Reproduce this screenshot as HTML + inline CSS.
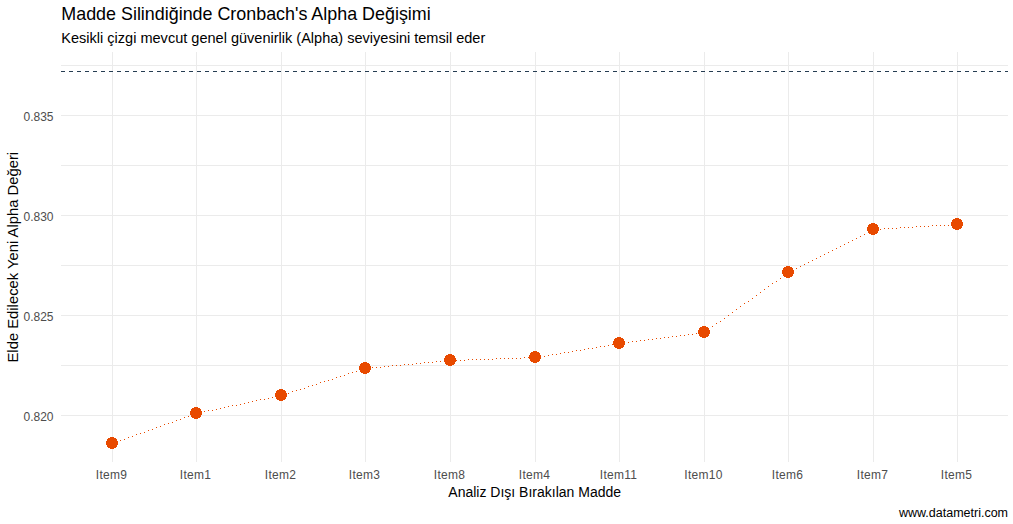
<!DOCTYPE html>
<html><head><meta charset="utf-8"><style>
html,body{margin:0;padding:0;background:#fff;overflow:hidden;}
svg{display:block;}
text{font-family:"Liberation Sans",sans-serif;}
.ax{font-size:12px;fill:#4D4D4D;}
.atx{font-size:14px;fill:#000;}
.aty{font-size:14.8px;fill:#000;}
.ti{font-size:17.9px;fill:#000;}
.st{font-size:14.54px;fill:#000;}
.cap{font-size:12.5px;fill:#000;}
</style></head><body>
<svg width="1013" height="524" viewBox="0 0 1013 524" shape-rendering="crispEdges">
<rect width="1013" height="524" fill="#fff"/>
<rect x="61" y="65" width="947" height="1" fill="#EBEBEB"/>
<rect x="61" y="115" width="947" height="1" fill="#EBEBEB"/>
<rect x="61" y="165" width="947" height="1" fill="#EBEBEB"/>
<rect x="61" y="215" width="947" height="1" fill="#EBEBEB"/>
<rect x="61" y="265" width="947" height="1" fill="#EBEBEB"/>
<rect x="61" y="315" width="947" height="1" fill="#EBEBEB"/>
<rect x="61" y="365" width="947" height="1" fill="#EBEBEB"/>
<rect x="61" y="415" width="947" height="1" fill="#EBEBEB"/>
<rect x="112" y="52" width="1" height="410" fill="#EBEBEB"/>
<rect x="196" y="52" width="1" height="410" fill="#EBEBEB"/>
<rect x="281" y="52" width="1" height="410" fill="#EBEBEB"/>
<rect x="365" y="52" width="1" height="410" fill="#EBEBEB"/>
<rect x="450" y="52" width="1" height="410" fill="#EBEBEB"/>
<rect x="535" y="52" width="1" height="410" fill="#EBEBEB"/>
<rect x="619" y="52" width="1" height="410" fill="#EBEBEB"/>
<rect x="704" y="52" width="1" height="410" fill="#EBEBEB"/>
<rect x="788" y="52" width="1" height="410" fill="#EBEBEB"/>
<rect x="873" y="52" width="1" height="410" fill="#EBEBEB"/>
<rect x="957" y="52" width="1" height="410" fill="#EBEBEB"/>
<path d="M61,71h4v1h-4zM69,71h4v1h-4zM77,71h4v1h-4zM85,71h4v1h-4zM93,71h4v1h-4zM101,71h4v1h-4zM109,71h4v1h-4zM117,71h4v1h-4zM125,71h4v1h-4zM133,71h4v1h-4zM141,71h4v1h-4zM149,71h4v1h-4zM157,71h4v1h-4zM165,71h4v1h-4zM173,71h4v1h-4zM181,71h4v1h-4zM189,71h4v1h-4zM197,71h4v1h-4zM205,71h4v1h-4zM213,71h4v1h-4zM221,71h4v1h-4zM229,71h4v1h-4zM237,71h4v1h-4zM245,71h4v1h-4zM253,71h4v1h-4zM261,71h4v1h-4zM269,71h4v1h-4zM277,71h4v1h-4zM285,71h4v1h-4zM293,71h4v1h-4zM301,71h4v1h-4zM309,71h4v1h-4zM317,71h4v1h-4zM325,71h4v1h-4zM333,71h4v1h-4zM341,71h4v1h-4zM349,71h4v1h-4zM357,71h4v1h-4zM365,71h4v1h-4zM373,71h4v1h-4zM381,71h4v1h-4zM389,71h4v1h-4zM397,71h4v1h-4zM405,71h4v1h-4zM413,71h4v1h-4zM421,71h4v1h-4zM429,71h4v1h-4zM437,71h4v1h-4zM445,71h4v1h-4zM453,71h4v1h-4zM461,71h4v1h-4zM469,71h4v1h-4zM477,71h4v1h-4zM485,71h4v1h-4zM493,71h4v1h-4zM501,71h4v1h-4zM509,71h4v1h-4zM517,71h4v1h-4zM525,71h4v1h-4zM533,71h4v1h-4zM541,71h4v1h-4zM549,71h4v1h-4zM557,71h4v1h-4zM565,71h4v1h-4zM573,71h4v1h-4zM581,71h4v1h-4zM589,71h4v1h-4zM597,71h4v1h-4zM605,71h4v1h-4zM613,71h4v1h-4zM621,71h4v1h-4zM629,71h4v1h-4zM637,71h4v1h-4zM645,71h4v1h-4zM653,71h4v1h-4zM661,71h4v1h-4zM669,71h4v1h-4zM677,71h4v1h-4zM685,71h4v1h-4zM693,71h4v1h-4zM701,71h4v1h-4zM709,71h4v1h-4zM717,71h4v1h-4zM725,71h4v1h-4zM733,71h4v1h-4zM741,71h4v1h-4zM749,71h4v1h-4zM757,71h4v1h-4zM765,71h4v1h-4zM773,71h4v1h-4zM781,71h4v1h-4zM789,71h4v1h-4zM797,71h4v1h-4zM805,71h4v1h-4zM813,71h4v1h-4zM821,71h4v1h-4zM829,71h4v1h-4zM837,71h4v1h-4zM845,71h4v1h-4zM853,71h4v1h-4zM861,71h4v1h-4zM869,71h4v1h-4zM877,71h4v1h-4zM885,71h4v1h-4zM893,71h4v1h-4zM901,71h4v1h-4zM909,71h4v1h-4zM917,71h4v1h-4zM925,71h4v1h-4zM933,71h4v1h-4zM941,71h4v1h-4zM949,71h4v1h-4zM957,71h4v1h-4zM965,71h4v1h-4zM973,71h4v1h-4zM981,71h4v1h-4zM989,71h4v1h-4zM997,71h4v1h-4zM1005,71h3v1h-3z" fill="#263D52"/>
<path d="M112,443h1v1h-1zM116,442h1v1h-1zM120,440h1v1h-1zM124,439h1v1h-1zM128,437h1v1h-1zM132,436h1v1h-1zM136,434h1v1h-1zM140,433h1v1h-1zM144,432h1v1h-1zM148,430h1v1h-1zM152,429h1v1h-1zM156,427h1v1h-1zM160,426h1v1h-1zM164,424h1v1h-1zM168,423h1v1h-1zM172,422h1v1h-1zM176,420h1v1h-1zM180,419h1v1h-1zM184,417h1v1h-1zM188,416h1v1h-1zM192,414h1v1h-1zM196,413h1v1h-1zM200,412h1v1h-1zM204,411h1v1h-1zM208,410h1v1h-1zM212,410h1v1h-1zM216,409h1v1h-1zM220,408h1v1h-1zM224,407h1v1h-1zM228,406h1v1h-1zM232,405h1v1h-1zM236,405h1v1h-1zM240,404h1v1h-1zM244,403h1v1h-1zM248,402h1v1h-1zM252,401h1v1h-1zM256,400h1v1h-1zM260,399h1v1h-1zM264,399h1v1h-1zM268,398h1v1h-1zM272,397h1v1h-1zM276,396h1v1h-1zM280,395h1v1h-1zM284,394h1v1h-1zM288,393h1v1h-1zM292,391h1v1h-1zM296,390h1v1h-1zM300,389h1v1h-1zM304,388h1v1h-1zM308,386h1v1h-1zM312,385h1v1h-1zM316,384h1v1h-1zM320,382h1v1h-1zM324,381h1v1h-1zM328,380h1v1h-1zM332,379h1v1h-1zM336,377h1v1h-1zM340,376h1v1h-1zM344,375h1v1h-1zM348,373h1v1h-1zM352,372h1v1h-1zM356,371h1v1h-1zM360,370h1v1h-1zM364,368h1v1h-1zM368,368h1v1h-1zM372,367h1v1h-1zM376,367h1v1h-1zM380,367h1v1h-1zM384,366h1v1h-1zM388,366h1v1h-1zM392,365h1v1h-1zM396,365h1v1h-1zM400,365h1v1h-1zM404,364h1v1h-1zM408,364h1v1h-1zM412,364h1v1h-1zM416,363h1v1h-1zM420,363h1v1h-1zM424,362h1v1h-1zM428,362h1v1h-1zM432,362h1v1h-1zM436,361h1v1h-1zM440,361h1v1h-1zM444,361h1v1h-1zM448,360h1v1h-1zM452,360h1v1h-1zM456,360h1v1h-1zM460,360h1v1h-1zM464,360h1v1h-1zM468,359h1v1h-1zM472,359h1v1h-1zM476,359h1v1h-1zM480,359h1v1h-1zM484,359h1v1h-1zM488,359h1v1h-1zM492,359h1v1h-1zM496,358h1v1h-1zM500,358h1v1h-1zM504,358h1v1h-1zM508,358h1v1h-1zM512,358h1v1h-1zM516,358h1v1h-1zM520,358h1v1h-1zM524,357h1v1h-1zM528,357h1v1h-1zM532,357h1v1h-1zM536,357h1v1h-1zM540,356h1v1h-1zM544,356h1v1h-1zM548,355h1v1h-1zM552,354h1v1h-1zM556,354h1v1h-1zM560,353h1v1h-1zM564,352h1v1h-1zM568,352h1v1h-1zM572,351h1v1h-1zM576,350h1v1h-1zM580,350h1v1h-1zM584,349h1v1h-1zM588,348h1v1h-1zM592,348h1v1h-1zM596,347h1v1h-1zM600,346h1v1h-1zM604,346h1v1h-1zM608,345h1v1h-1zM612,344h1v1h-1zM616,344h1v1h-1zM620,343h1v1h-1zM624,342h1v1h-1zM628,342h1v1h-1zM632,341h1v1h-1zM636,341h1v1h-1zM640,340h1v1h-1zM644,340h1v1h-1zM648,339h1v1h-1zM652,339h1v1h-1zM656,338h1v1h-1zM660,338h1v1h-1zM664,337h1v1h-1zM668,337h1v1h-1zM672,336h1v1h-1zM676,336h1v1h-1zM680,335h1v1h-1zM684,335h1v1h-1zM688,334h1v1h-1zM692,334h1v1h-1zM696,333h1v1h-1zM700,333h1v1h-1zM704,332h1v1h-1zM708,329h1v1h-1zM712,326h1v1h-1zM716,323h1v1h-1zM720,321h1v1h-1zM724,318h1v1h-1zM728,315h1v1h-1zM732,312h1v1h-1zM736,309h1v1h-1zM740,306h1v1h-1zM744,303h1v1h-1zM748,301h1v1h-1zM752,298h1v1h-1zM756,295h1v1h-1zM760,292h1v1h-1zM764,289h1v1h-1zM768,286h1v1h-1zM772,283h1v1h-1zM776,281h1v1h-1zM780,278h1v1h-1zM784,275h1v1h-1zM788,272h1v1h-1zM792,270h1v1h-1zM796,268h1v1h-1zM800,266h1v1h-1zM804,264h1v1h-1zM808,262h1v1h-1zM812,260h1v1h-1zM816,258h1v1h-1zM820,256h1v1h-1zM824,254h1v1h-1zM828,252h1v1h-1zM832,250h1v1h-1zM836,248h1v1h-1zM840,246h1v1h-1zM844,244h1v1h-1zM848,242h1v1h-1zM852,240h1v1h-1zM856,238h1v1h-1zM860,236h1v1h-1zM864,234h1v1h-1zM868,232h1v1h-1zM872,230h1v1h-1zM876,229h1v1h-1zM880,229h1v1h-1zM884,228h1v1h-1zM888,228h1v1h-1zM892,228h1v1h-1zM896,228h1v1h-1zM900,227h1v1h-1zM904,227h1v1h-1zM908,227h1v1h-1zM912,227h1v1h-1zM916,226h1v1h-1zM920,226h1v1h-1zM924,226h1v1h-1zM928,226h1v1h-1zM932,225h1v1h-1zM936,225h1v1h-1zM940,225h1v1h-1zM944,225h1v1h-1zM948,225h1v1h-1zM952,224h1v1h-1zM956,224h1v1h-1z" fill="#E84A00"/>
<path d="M110,437h4v1h2v1h1v2h1v4h-1v2h-1v1h-2v1h-4v-1h-2v-1h-1v-2h-1v-4h1v-2h1v-1h2zM194,407h4v1h2v1h1v2h1v4h-1v2h-1v1h-2v1h-4v-1h-2v-1h-1v-2h-1v-4h1v-2h1v-1h2zM279,389h4v1h2v1h1v2h1v4h-1v2h-1v1h-2v1h-4v-1h-2v-1h-1v-2h-1v-4h1v-2h1v-1h2zM363,362h4v1h2v1h1v2h1v4h-1v2h-1v1h-2v1h-4v-1h-2v-1h-1v-2h-1v-4h1v-2h1v-1h2zM448,354h4v1h2v1h1v2h1v4h-1v2h-1v1h-2v1h-4v-1h-2v-1h-1v-2h-1v-4h1v-2h1v-1h2zM533,351h4v1h2v1h1v2h1v4h-1v2h-1v1h-2v1h-4v-1h-2v-1h-1v-2h-1v-4h1v-2h1v-1h2zM617,337h4v1h2v1h1v2h1v4h-1v2h-1v1h-2v1h-4v-1h-2v-1h-1v-2h-1v-4h1v-2h1v-1h2zM702,326h4v1h2v1h1v2h1v4h-1v2h-1v1h-2v1h-4v-1h-2v-1h-1v-2h-1v-4h1v-2h1v-1h2zM786,266h4v1h2v1h1v2h1v4h-1v2h-1v1h-2v1h-4v-1h-2v-1h-1v-2h-1v-4h1v-2h1v-1h2zM871,223h4v1h2v1h1v2h1v4h-1v2h-1v1h-2v1h-4v-1h-2v-1h-1v-2h-1v-4h1v-2h1v-1h2zM955,218h4v1h2v1h1v2h1v4h-1v2h-1v1h-2v1h-4v-1h-2v-1h-1v-2h-1v-4h1v-2h1v-1h2z" fill="#E84A00"/>
<text x="53.5" y="120.50" text-anchor="end" class="ax">0.835</text>
<text x="53.5" y="220.50" text-anchor="end" class="ax">0.830</text>
<text x="53.5" y="320.50" text-anchor="end" class="ax">0.825</text>
<text x="53.5" y="420.50" text-anchor="end" class="ax">0.820</text>
<text x="111.50" y="479" text-anchor="middle" class="ax" letter-spacing="0.27">Item9</text>
<text x="195.50" y="479" text-anchor="middle" class="ax" letter-spacing="0.27">Item1</text>
<text x="280.50" y="479" text-anchor="middle" class="ax" letter-spacing="0.27">Item2</text>
<text x="364.50" y="479" text-anchor="middle" class="ax" letter-spacing="0.27">Item3</text>
<text x="449.50" y="479" text-anchor="middle" class="ax" letter-spacing="0.27">Item8</text>
<text x="534.50" y="479" text-anchor="middle" class="ax" letter-spacing="0.27">Item4</text>
<text x="618.50" y="479" text-anchor="middle" class="ax" letter-spacing="0.27">Item11</text>
<text x="703.50" y="479" text-anchor="middle" class="ax" letter-spacing="0.27">Item10</text>
<text x="787.50" y="479" text-anchor="middle" class="ax" letter-spacing="0.27">Item6</text>
<text x="872.50" y="479" text-anchor="middle" class="ax" letter-spacing="0.27">Item7</text>
<text x="956.50" y="479" text-anchor="middle" class="ax" letter-spacing="0.27">Item5</text>
<text x="534.7" y="497" text-anchor="middle" class="atx">Analiz Dışı Bırakılan Madde</text>
<text transform="translate(17.5,257.2) rotate(-90)" text-anchor="middle" class="aty">Elde Edilecek Yeni Alpha Değeri</text>
<text x="61.3" y="19.8" class="ti">Madde Silindiğinde Cronbach's Alpha Değişimi</text>
<text x="61.3" y="43" class="st">Kesikli çizgi mevcut genel güvenirlik (Alpha) seviyesini temsil eder</text>
<text x="1008" y="516.6" text-anchor="end" class="cap">www.datametri.com</text>
</svg></body></html>
